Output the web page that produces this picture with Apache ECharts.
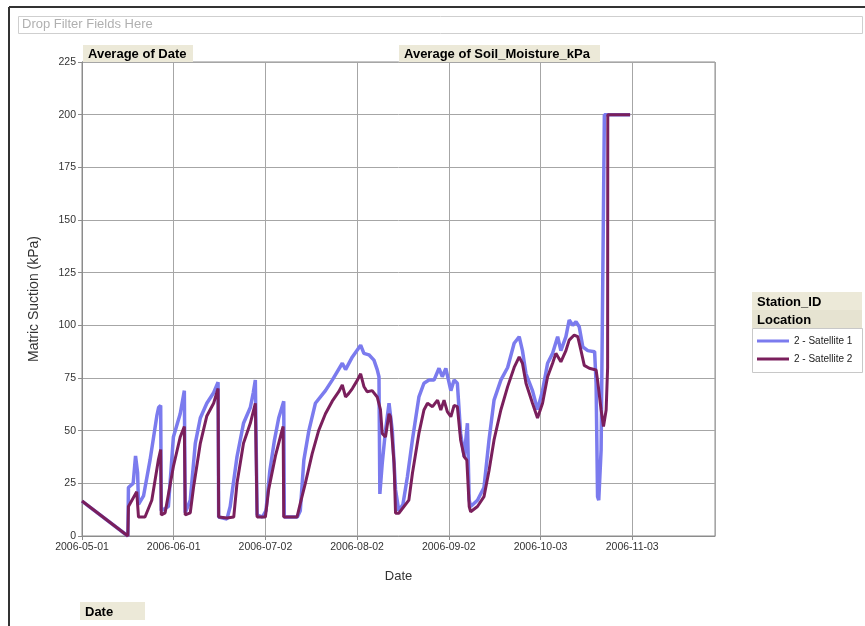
<!DOCTYPE html>
<html>
<head>
<meta charset="utf-8">
<script src="https://cdn.jsdelivr.net/npm/echarts@6/dist/echarts.min.js"></script>
<style>
html,body{margin:0;padding:0;background:#fff;}
#chart{width:865px;height:626px;}
</style>
</head>
<body>
<div id="chart"></div>
<script>
// Days since 2006-05-01
const tickLabels = ['2006-05-01','2006-06-01','2006-07-02','2006-08-02','2006-09-02','2006-10-03','2006-11-03'];
const seriesNames = ['2 - Satellite 1','2 - Satellite 2'];

const sat1Days = [0,15.5,15.7,17.3,18.1,18.8,19.1,20.8,23,25.3,25.9,26.6,26.8,29.2,30.9,33.2,34.6,34.9,36.6,38.3,40,42.2,44.5,46,46.2,49,50.1,52.4,54.6,56.9,57.9,58.6,59.2,61,62.2,63.5,65,66.5,68.2,68.4,72.8,73.8,75,76.7,78.9,82.3,84.6,88,89.1,91.4,94.2,95.3,97,98.7,99.8,100.4,100.7,101.5,102.6,103.8,104.9,106,107.1,108.5,110,111.7,113.9,115.6,117.3,119,120.7,121.8,123,124.7,125.8,126.9,128,129.2,130.3,130.9,131.4,133.7,135.9,137.6,139.3,141.6,143.9,146.1,147.8,148.9,150.1,152.3,154,155.7,157.4,159.1,160.8,161.9,163.6,164.7,165.9,167,168.1,169.3,171,173.3,173.8,174.3,174.7,175.5,176.6,185.3];
const sat1Values = [16.6,0,23,25,38,30,15,19,36,57,61,62,12,14,47,58,69,11,17,44,56,63,68,73,9,8,14,37.6,53.5,61,68,74,10,9,12,31,45,56,64,9,9,12,36,50,63,69,74,82,79,85,90.6,86.7,86,83.5,79,75.6,20,34.5,50,63,50,22,12,15,28,45.6,66,72.5,74,74,79.6,75.6,79.6,69,74,72.5,48.7,37.6,53.5,17,14,17,23,45.6,64.5,74,80,91.5,94.6,88,77,69,60,69,82,86.7,94.6,88,94.6,102.5,100,101.7,99.3,89.8,88,87.5,72.5,18.7,17,41,200,200];

const sat2Days = [0,15.5,15.7,18.5,19.1,21.3,23.6,25.8,26.6,26.8,28.1,30.9,33.2,34.6,34.9,36.6,37.7,40,42.2,44.5,46,46.2,49,51.3,52.4,54.6,56.9,58.6,59.2,62,63.1,65.4,67.6,68,68.2,72.7,73.8,75.5,77.8,80,82.3,84.6,86.8,88,89.1,90.2,91.4,93.1,94.2,95.3,96.4,98.1,99.8,100.9,101.5,102.6,103.8,104.3,105.5,106,107.1,110.5,111.7,113.9,115.6,116.8,118.5,120.2,121.3,122.4,123.5,124.7,125.8,126.9,128,129.2,130.1,130.9,131.4,133.7,135.9,137.6,139.3,141.6,143.9,146.1,147.8,148.9,150.1,152.3,154,155.7,157.4,159.1,160.2,161.9,163.6,164.7,166.4,167.6,168.7,169.8,171.5,173.8,174.3,175.5,176.3,177.2,177.7,177.75,185.3];
const sat2Values = [16.6,0,14,21,9,9,17,36,41,10,11,33,47,52,10,11,23,44,57,63,70,9,8.5,9,25,44,53.5,63,9,9,22,38,50,52,9,9,15.5,25,39,50,58,64,68.5,71.7,66,67.7,70,74,77,71,68.5,69,66,60,48.7,47,58,56.6,34.5,10.8,10.8,17,29.7,48.7,59.8,63,61.4,64.5,59.8,64.5,59,56.6,62,61.4,45.6,37.6,36,14,11.5,14,18.7,31,45.6,59.8,70.9,80,85,82,72.5,63,56,63,75.6,82,86.7,82.7,88,93,95.4,94.6,88,81,79.6,78.8,74,59.8,52,59.8,80,200,200];

const pairs = (d, v) => d.map((x, i) => [x, v[i]]);
const FONT = 'Arial, "Liberation Sans", sans-serif';

const chart = echarts.init(document.getElementById('chart'), null, {renderer: 'canvas'});

function button(x, y, w, h, label, fill) {
  return {
    type: 'group', left: x, top: y, z: 10,
    children: [
      {type: 'rect', shape: {x: 0, y: 0, width: w, height: h}, style: {fill: fill || '#ECE9D8', stroke: null}},
      {type: 'text', style: {x: 5, y: h / 2 + 1, text: label, font: 'bold 13px ' + FONT, fill: '#000', textVerticalAlign: 'middle'}}
    ]
  };
}

chart.setOption({
  animation: false,
  backgroundColor: '#fff',
  textStyle: {fontFamily: FONT},
  grid: {left: 82, right: 150, top: 62, bottom: 90, show: true, borderColor: '#8c8c8c', borderWidth: 1},
  xAxis: {
    type: 'value', min: 0, max: 214, interval: 31,
    name: 'Date', nameLocation: 'middle', nameGap: 34,
    nameTextStyle: {fontSize: 13, color: '#333', fontFamily: FONT},
    axisLine: {show: true, lineStyle: {color: '#8c8c8c'}},
    axisTick: {show: true, length: 4, lineStyle: {color: '#8c8c8c'}},
    axisLabel: {fontSize: 10.5, color: '#333', margin: 6, showMaxLabel: false,
      formatter: v => (v % 31 === 0 && tickLabels[v / 31]) ? tickLabels[v / 31] : ''},
    splitLine: {show: true, lineStyle: {color: '#a6a6a6', width: 1}}
  },
  yAxis: {
    type: 'value', min: 0, max: 225, interval: 25,
    name: 'Matric Suction (kPa)', nameLocation: 'middle', nameGap: 41,
    nameTextStyle: {fontSize: 14, color: '#333', fontFamily: FONT},
    axisLine: {show: true, lineStyle: {color: '#8c8c8c'}},
    axisTick: {show: true, length: 4, lineStyle: {color: '#8c8c8c'}},
    axisLabel: {fontSize: 10.5, color: '#333', margin: 6},
    splitLine: {show: true, lineStyle: {color: '#a6a6a6', width: 1}}
  },
  legend: {
    orient: 'vertical', left: 757, top: 336, itemWidth: 32, itemHeight: 3, itemGap: 8,
    icon: 'rect', padding: 0,
    textStyle: {fontSize: 10, color: '#222', fontFamily: FONT},
    data: seriesNames
  },
  series: [
    {name: seriesNames[0], type: 'line', showSymbol: false, symbol: 'none',
      lineStyle: {color: '#7B7BEE', width: 3.5}, itemStyle: {color: '#7B7BEE'},
      data: pairs(sat1Days, sat1Values), z: 2},
    {name: seriesNames[1], type: 'line', showSymbol: false, symbol: 'none',
      lineStyle: {color: '#7A1F5C', width: 3}, itemStyle: {color: '#7A1F5C'},
      data: pairs(sat2Days, sat2Values), z: 3}
  ],
  graphic: [
    {type: 'line', shape: {x1: 9, y1: 7, x2: 865, y2: 7}, style: {stroke: '#333', lineWidth: 2}},
    {type: 'line', shape: {x1: 9, y1: 7, x2: 9, y2: 626}, style: {stroke: '#333', lineWidth: 2}},
    {type: 'rect', left: 18, top: 16, shape: {width: 844, height: 17}, style: {fill: '#fff', stroke: '#cfcfcf', lineWidth: 1}},
    {type: 'text', left: 22, top: 18, style: {text: 'Drop Filter Fields Here', font: '13px ' + FONT, fill: '#b0b0b0'}},
    button(83, 45, 110, 17, 'Average of Date'),
    button(399, 45, 201, 17, 'Average of Soil_Moisture_kPa'),
    button(752, 292, 110, 18, 'Station_ID'),
    button(752, 310, 110, 18, 'Location', '#E6E3D1'),
    {type: 'rect', left: 752, top: 328, z: 0, shape: {width: 110, height: 44}, style: {fill: '#fff', stroke: '#c8c8c8', lineWidth: 1}},
    button(80, 602, 65, 18, 'Date')
  ]
});
</script>
</body>
</html>
